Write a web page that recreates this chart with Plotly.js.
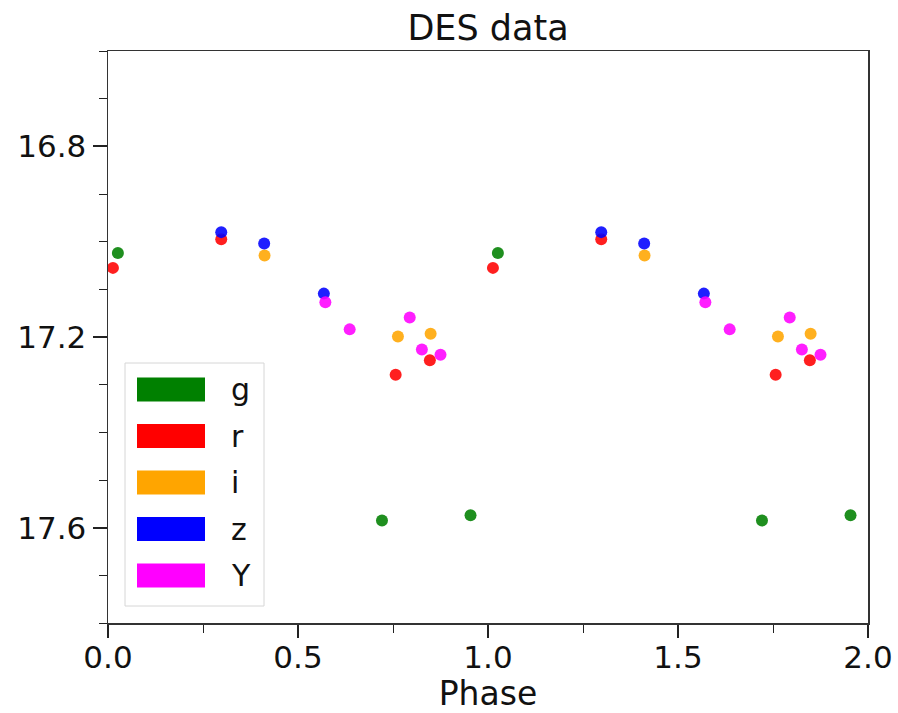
<!DOCTYPE html>
<html>
<head>
<meta charset="utf-8">
<script src="https://cdn.plot.ly/plotly-3.0.1.min.js"></script>
<style>
  html, body { margin: 0; padding: 0; background: #fff; }
  #chart { width: 898px; height: 713px; }
</style>
</head>
<body>
<div id="chart"></div>
<script>
// DES light curve, folded on the period (phase in [0, 1)).
const bands = ["g", "r", "i", "z", "Y"];
const bandColors = ["#008000", "#ff0000", "#ffa500", "#0000ff", "#ff00ff"];

const phaseG = [0.026, 0.721, 0.954];
const magG   = [17.024, 17.585, 17.574];

const phaseR = [0.013, 0.298, 0.757, 0.847];
const magR   = [17.055, 16.995, 17.279, 17.249];

const phaseI = [0.412, 0.763, 0.849];
const magI   = [17.029, 17.199, 17.193];

const phaseZ = [0.298, 0.411, 0.568];
const magZ   = [16.980, 17.004, 17.109];

const phaseY = [0.572, 0.636, 0.794, 0.826, 0.875];
const magY   = [17.127, 17.184, 17.159, 17.226, 17.237];

const phases = [phaseG, phaseR, phaseI, phaseZ, phaseY];
const mags   = [magG, magR, magI, magZ, magY];

const FONT = "DejaVu Sans, Liberation Sans, sans-serif";
const INK = "#111";

// Each observation is shown in two consecutive cycles.
const traces = bands.map((b, k) => ({
  type: "scatter",
  mode: "markers",
  name: b,
  x: phases[k].concat(phases[k].map(p => p + 1)),
  y: mags[k].concat(mags[k]),
  marker: { color: bandColors[k], size: 12, opacity: 0.88, line: { width: 0 } },
  error_y: { type: "constant", value: 0.004, color: "rgba(255,255,255,0.45)", thickness: 1, width: 2 },
  showlegend: false,
  hoverinfo: "x+y+name"
}));

// Plot area geometry (pixels) used to place the legend box.
const W = 898, H = 713;
const M = { l: 108, r: 30, t: 51, b: 90 };
const PW = W - M.l - M.r, PH = H - M.t - M.b;
const px = v => (v - M.l) / PW;
const py = v => (H - M.b - v) / PH;

const shapes = [{
  type: "rect", xref: "paper", yref: "paper", layer: "above",
  x0: px(125), x1: px(264), y0: py(606), y1: py(363),
  line: { color: "#d6d6d6", width: 1 }, fillcolor: "rgba(255,255,255,0.8)"
}];
const annotations = [];
bands.forEach((b, k) => {
  const cy = 389.5 + k * 46.5;
  shapes.push({
    type: "rect", xref: "paper", yref: "paper", layer: "above",
    x0: px(137), x1: px(205), y0: py(cy + 12), y1: py(cy - 12),
    line: { width: 0 }, fillcolor: bandColors[k]
  });
  annotations.push({
    xref: "paper", yref: "paper", x: px(229), y: py(cy),
    xanchor: "left", yanchor: "middle", showarrow: false,
    text: b, font: { family: FONT, size: 30, color: INK }
  });
});

const layout = {
  width: W, height: H,
  margin: M,
  paper_bgcolor: "#fff", plot_bgcolor: "#fff",
  showlegend: false,
  title: {
    text: "DES data",
    font: { family: FONT, size: 35, color: INK },
    x: 0.5 * (M.l + W - M.r) / W, xanchor: "center",
    y: 1 - 28 / H, yanchor: "middle", yref: "container"
  },
  xaxis: {
    range: [0, 2.0],
    tick0: 0, dtick: 0.5, tickformat: ".1f",
    ticks: "outside", ticklen: 13, tickwidth: 2, tickcolor: "#222",
    ticklabelstandoff: -7,
    minor: { dtick: 0.25, ticks: "outside", ticklen: 8, tickwidth: 1, tickcolor: "#222", showgrid: false },
    showgrid: false, zeroline: false,
    showline: true, linecolor: "#333", linewidth: 1.5, mirror: true,
    tickfont: { family: FONT, size: 31, color: INK },
    title: { text: "Phase", font: { family: FONT, size: 33, color: INK }, standoff: 16 }
  },
  yaxis: {
    range: [17.8, 16.6],
    tick0: 16.8, dtick: 0.4, tickformat: ".1f",
    ticks: "outside", ticklen: 14, tickwidth: 2, tickcolor: "#222",
    minor: { tick0: 16.8, dtick: 0.1, ticks: "outside", ticklen: 8, tickwidth: 1, tickcolor: "#222", showgrid: false },
    showgrid: false, zeroline: false,
    showline: true, linecolor: "#333", linewidth: 1.5, mirror: true,
    tickfont: { family: FONT, size: 31, color: INK }
  },
  shapes: shapes,
  annotations: annotations
};

Plotly.newPlot("chart", traces, layout, { staticPlot: true, displayModeBar: false });
</script>
</body>
</html>
